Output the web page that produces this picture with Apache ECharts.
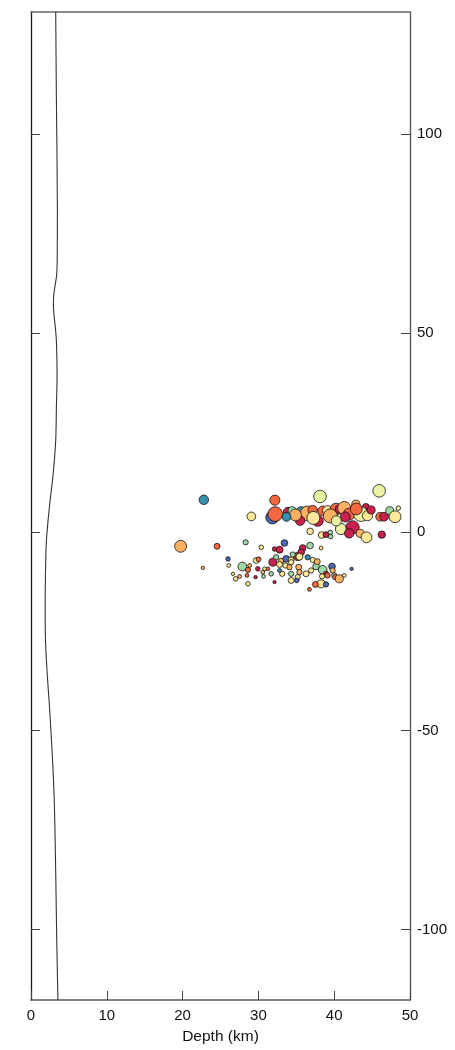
<!DOCTYPE html>
<html><head><meta charset="utf-8">
<script src="https://cdn.jsdelivr.net/npm/echarts@6/dist/echarts.min.js"></script>
<style>html,body{margin:0;padding:0;background:#fff}#c{width:455px;height:1050px}</style>
</head><body><div id="c"></div>
<script>
// Profile line (depth km, distance)
const lineDepth = [3.26,3.35,3.48,3.46,3.38,3.18,3.00,2.96,3.05,3.22,3.35,3.44,3.35,3.26,2.92,2.43,2.04,1.91,1.87,1.91,2.13,2.43,2.69,2.92,3.09,3.26,3.39,3.55];
const lineDist  = [130.75,108.75,81.25,68.75,64.5,62,59.5,57,54.25,51.25,48,39.5,31.25,23,14.5,6.25,-2,-10.5,-18.75,-27,-35.5,-43.75,-52,-60.5,-68.75,-85.5,-102,-117.75];

// Events
const depth = [22.80,32.17,38.13,45.93,29.07,31.83,32.22,33.88,34.45,35.64,36.50,35.51,37.16,38.48,39.13,37.82,40.24,40.67,41.33,42.86,44.18,41.98,43.52,44.39,40.89,42.42,41.98,43.43,44.26,46.28,36.82,38.34,38.92,39.49,39.53,46.06,46.58,47.33,48.03,48.46,
 19.74,24.55,28.32,30.38,33.44,38.27,36.82,32.13,35.85,25.99,26.08,22.67,27.88,29.72,30.03,31.91,33.0,33.67,34.32,35.19,34.53,35.64,36.50,37.17,32.35,32.79,33.57,34.10,35.32,37.61,38.48,39.71,39.79,38.92,36.95,36.29,35.41,35.19,35.06,34.32,34.32,28.62,28.84,29.93,30.59,31.25,31.69,30.81,26.65,27.53,27.00,28.49,28.62,29.63,30.68,33.14,32.13,32.79,38.40,39.13,40.01,40.14,40.67,42.29,41.33,38.27,37.52,38.92,36.73,34.32,
 34.89,37.25,39.49,42.91,44.87,41.46,33.71,40.28,32.79,35.41,37.77];
const north = [8.06,7.96,8.89,10.31,3.88,3.63,4.46,5.06,5.31,5.31,4.63,2.80,5.46,5.31,5.31,2.80,5.71,5.71,5.96,6.96,6.31,4.46,4.46,4.06,0.70,1.13,-0.38,-0.38,-1.38,-0.70,0.13,-0.80,-0.70,-0.13,-1.20,3.80,3.80,5.31,3.80,5.96,
 -3.63,-3.63,-2.63,-3.88,-2.80,-4.06,-3.45,-4.31,-4.06,-6.81,-8.46,-9.06,-8.71,-7.21,-6.9,-7.63,-7.3,-6.81,-7.05,-6.21,-5.71,-5.13,-6.38,-7.05,-6.38,-8.21,-8.46,-8.89,-8.89,-8.71,-9.56,-8.71,-9.71,-10.56,-9.71,-10.56,-10.14,-11.39,-12.22,-12.22,-10.56,-9.56,-8.46,-9.31,-10.14,-9.31,-10.56,-9.31,-10.56,-11.21,-11.81,-10.96,-13.07,-11.39,-11.21,-10.56,-12.64,-9.71,-11.21,-10.96,-10.96,-11.39,-11.81,-9.31,-10.96,-13.07,-13.22,-13.22,-14.47,-7.63,
 4.25,3.5,4.0,5.75,5.5,3.75,3.75,2.75,-4.5,-6.25,-7.5];
const magnitude = [2.7,2.9,3.6,3.6,2.5,3.7,4.2,2.5,2.3,2.3,4.2,2.7,2.7,2.7,2.9,3.2,3.4,2.3,3.8,2.3,1.9,3.4,4.2,2.9,3.2,3.8,2.7,2.3,3.1,2.1,1.9,1.9,1.7,1.3,1.3,2.5,2.5,2.3,3.4,1.3,
 3.4,1.7,1.5,1.3,1.9,1.1,1.9,1.3,1.9,1.3,1.1,0.95,2.5,1.7,1.4,2.3,1.5,1.9,1.7,2.3,1.5,1.9,1.5,1.5,1.5,1.7,1.5,1.5,1.7,1.9,2.5,1.9,1.5,1.5,1.5,1.7,1.5,1.5,1.3,1.7,1.5,1.5,1.1,1.3,1.1,1.1,1.3,1.1,0.95,1.1,1.3,1.1,1.3,0.95,1.1,1.5,0.95,1.1,1.5,1.5,1.5,1.5,2.3,0.95,1.1,2.3,1.7,1.5,1.1,1.5,
 3.4,3.7,4.0,3.4,2.3,2.9,2.5,2.9,2.0,2.0,1.7];
// time class: 0 earliest ... 7 latest
const timeClass = [6,1,4,4,3,7,1,0,5,6,2,0,1,1,3,0,1,0,2,2,0,1,4,3,4,0,0,2,3,0,3,3,0,5,5,1,0,5,3,4,
 2,1,5,3,7,3,5,0,0,7,3,2,5,3,1,0,2,7,3,0,5,0,6,3,5,3,3,2,2,5,5,7,2,0,3,3,2,3,7,3,5,1,2,0,2,1,5,3,3,2,3,1,3,0,5,3,0,6,3,1,5,1,2,7,3,3,1,7,1,3,
 2,3,2,1,0,0,6,4,0,3,2];

const timeColors = ['#c8214c','#f26841','#fdb163','#fee99a','#eaf2a4','#9fd8a4','#3b8fae','#4a6ab4'];
const yTicks = [-100,-50,0,50,100];

const events = depth.map((d,i)=>[d, north[i], magnitude[i], timeClass[i]]);
const profile = lineDepth.map((d,i)=>[d, lineDist[i]]);

const font = 'Liberation Sans, Arial, Helvetica, sans-serif';
const chart = echarts.init(document.getElementById('c'), null, {renderer:'canvas'});
chart.setOption({
  animation:false,
  backgroundColor:'#fff',
  grid:{left:31,right:45,top:12,bottom:44,containLabel:false},
  xAxis:[{
    type:'value',min:0,max:50,interval:10,position:'bottom',
    name:'Depth (km)',nameLocation:'middle',nameGap:29,
    nameTextStyle:{fontFamily:font,fontSize:15.5,color:'#111'},
    axisLine:{show:true,onZero:false,lineStyle:{color:'#555',width:1.6}},
    axisTick:{show:true,inside:true,length:9,lineStyle:{color:'#444',width:1}},
    axisLabel:{fontFamily:font,fontSize:15,color:'#111',margin:8},
    splitLine:{show:false}
  },{
    type:'value',min:0,max:50,interval:10,position:'top',
    axisLine:{show:true,onZero:false,lineStyle:{color:'#666',width:1.6}},
    axisTick:{show:false},axisLabel:{show:false},splitLine:{show:false}
  }],
  yAxis:[{
    type:'value',min:-117.75,max:130.75,position:'right',
    axisLine:{show:true,onZero:false,lineStyle:{color:'#555',width:1.4}},
    axisTick:{show:true,inside:true,length:9,customValues:yTicks,lineStyle:{color:'#444',width:1}},
    axisLabel:{fontFamily:font,fontSize:15,color:'#111',margin:7,customValues:yTicks},
    splitLine:{show:false}
  },{
    type:'value',min:-117.75,max:130.75,position:'left',
    axisLine:{show:true,onZero:false,lineStyle:{color:'#1a1a1a',width:1.3}},
    axisTick:{show:true,inside:true,length:9,customValues:yTicks,lineStyle:{color:'#444',width:1}},
    axisLabel:{show:false},splitLine:{show:false}
  }],
  series:[{
    type:'line',data:profile,showSymbol:false,smooth:0.3,
    lineStyle:{color:'#333',width:1.1},z:2,silent:true
  },{
    type:'scatter',data:events,
    symbolSize:v=>v[2]*3.5,
    itemStyle:{
      color:p=>timeColors[p.data[3]],
      borderColor:'#111',borderWidth:0.8,opacity:1
    },z:3
  }]
});
</script></body></html>
